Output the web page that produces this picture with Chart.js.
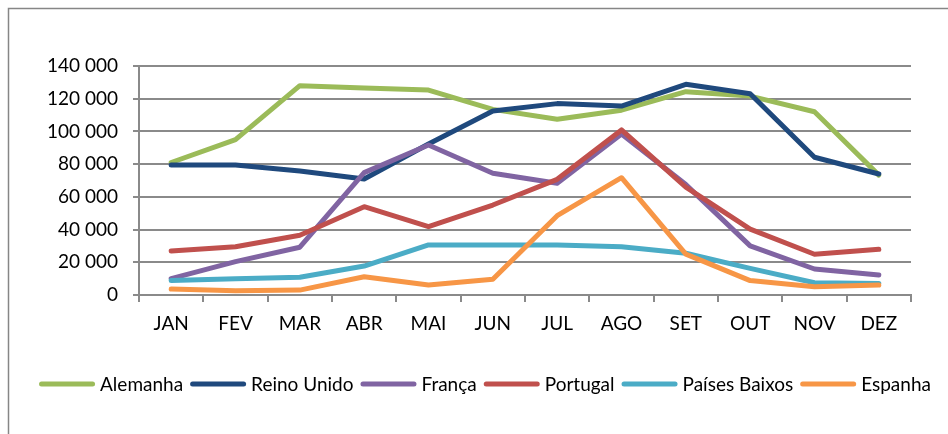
<!DOCTYPE html>
<html><head><meta charset="utf-8">
<script src="https://cdn.jsdelivr.net/npm/chart.js@4"></script>
<style>html,body{margin:0;padding:0;background:#fff}#wrap{width:948px;height:434px;position:relative}</style>
</head><body><div id="wrap"><canvas id="c" width="948" height="434"></canvas></div>
<script>
const categories = ['JAN','FEV','MAR','ABR','MAI','JUN','JUL','AGO','SET','OUT','NOV','DEZ'];
const seriesNames = ['Alemanha','Reino Unido','França','Portugal','Países Baixos','Espanha'];
const alemanha     = [81000, 95000, 128000, 126500, 125300, 113500, 107400, 113000, 124300, 121600, 112000, 73300];
const reinoUnido   = [79500, 79500, 75800, 70900, 92300, 112500, 117000, 115500, 128800, 123000, 84200, 74000];
const franca       = [10000, 20400, 29200, 74800, 91700, 74400, 68300, 98400, 67500, 30000, 15900, 12200];
const portugal     = [26900, 29500, 36500, 54000, 41800, 55000, 70700, 100900, 66000, 40300, 24900, 27900];
const paisesBaixos = [8800, 10000, 10800, 17700, 30600, 30600, 30600, 29500, 25500, 16300, 7500, 7100];
const espanha      = [3700, 2600, 3000, 11200, 6100, 9600, 48500, 71700, 25000, 8800, 5100, 6100];
const yTicks = [0, 20000, 40000, 60000, 80000, 100000, 120000, 140000];

const seriesData = [alemanha, reinoUnido, franca, portugal, paisesBaixos, espanha];
const colors = ['#9BBB59', '#1F497D', '#8064A2', '#C0504D', '#4BACC6', '#F79646'];
const FONT = 'Lato';
const FSIZE = 19;
const GRID = '#8a8a8a';

const fmt = v => String(v).replace(/\B(?=(\d{3})+(?!\d))/g, ' ');

const framePlugin = {
  id: 'frame',
  beforeDraw(chart) {
    const ctx = chart.ctx;
    ctx.save();
    ctx.fillStyle = '#fff';
    ctx.fillRect(0, 0, chart.width, chart.height);
    ctx.strokeStyle = '#868686';
    ctx.lineWidth = 1.5;
    ctx.strokeRect(8.5, 8.5, 1400, 1400);
    ctx.restore();
  }
};

const legendPlugin = {
  id: 'customLegend',
  afterDraw(chart) {
    const ctx = chart.ctx;
    ctx.save();
    ctx.font = FSIZE + 'px ' + FONT;
    const lineW = 56, gapA = 5, gapB = 7, y = 384;
    const items = chart.data.datasets.map(d => ({label: d.label, color: d.borderColor, tw: ctx.measureText(d.label).width}));
    let total = items.reduce((s, it) => s + lineW + gapA + it.tw, 0) + gapB * (items.length - 1);
    let x = 485 - total / 2;
    items.forEach(it => {
      ctx.strokeStyle = it.color;
      ctx.lineWidth = 5;
      ctx.lineCap = 'round';
      ctx.beginPath();
      ctx.moveTo(x + 2.5, y);
      ctx.lineTo(x + lineW - 2.5, y);
      ctx.stroke();
      ctx.fillStyle = '#000';
      ctx.textBaseline = 'middle';
      ctx.textAlign = 'left';
      ctx.fillText(it.label, x + lineW + gapA, y + 1);
      x += lineW + gapA + it.tw + gapB;
    });
    ctx.restore();
  }
};

const datasets = seriesNames.map((name, i) => ({
  label: name,
  data: seriesData[i],
  borderColor: colors[i],
  backgroundColor: colors[i],
  borderWidth: 5,
  pointRadius: 0,
  pointHoverRadius: 0,
  tension: 0,
  fill: false,
  borderJoinStyle: 'round',
  borderCapStyle: 'round',
  order: seriesNames.length - i
}));

new Chart(document.getElementById('c'), {
  type: 'line',
  data: { labels: categories, datasets },
  options: {
    responsive: false,
    animation: false,
    devicePixelRatio: 1,
    layout: { padding: { left: 0, top: 66, right: 37, bottom: 99 } },
    plugins: { legend: { display: false }, tooltip: { enabled: false } },
    scales: {
      x: {
        offset: true,
        afterFit: s => { s.height = 40; },
        grid: { offset: true, drawOnChartArea: false, drawTicks: true, tickLength: 7, color: GRID, lineWidth: 2 },
        border: { display: true, color: GRID, width: 2 },
        ticks: { color: '#000', font: { family: FONT, size: FSIZE }, padding: 10, maxRotation: 0 }
      },
      y: {
        min: 0, max: 140000,
        afterFit: s => { s.width = 139; },
        afterBuildTicks: s => { s.ticks = yTicks.map(v => ({ value: v })); },
        grid: { color: GRID, lineWidth: 2, drawTicks: true, tickLength: 6 },
        border: { display: true, color: GRID, width: 2 },
        ticks: { color: '#000', font: { family: FONT, size: FSIZE }, padding: 15, callback: v => fmt(v) }
      }
    }
  },
  plugins: [framePlugin, legendPlugin]
});
</script></body></html>
